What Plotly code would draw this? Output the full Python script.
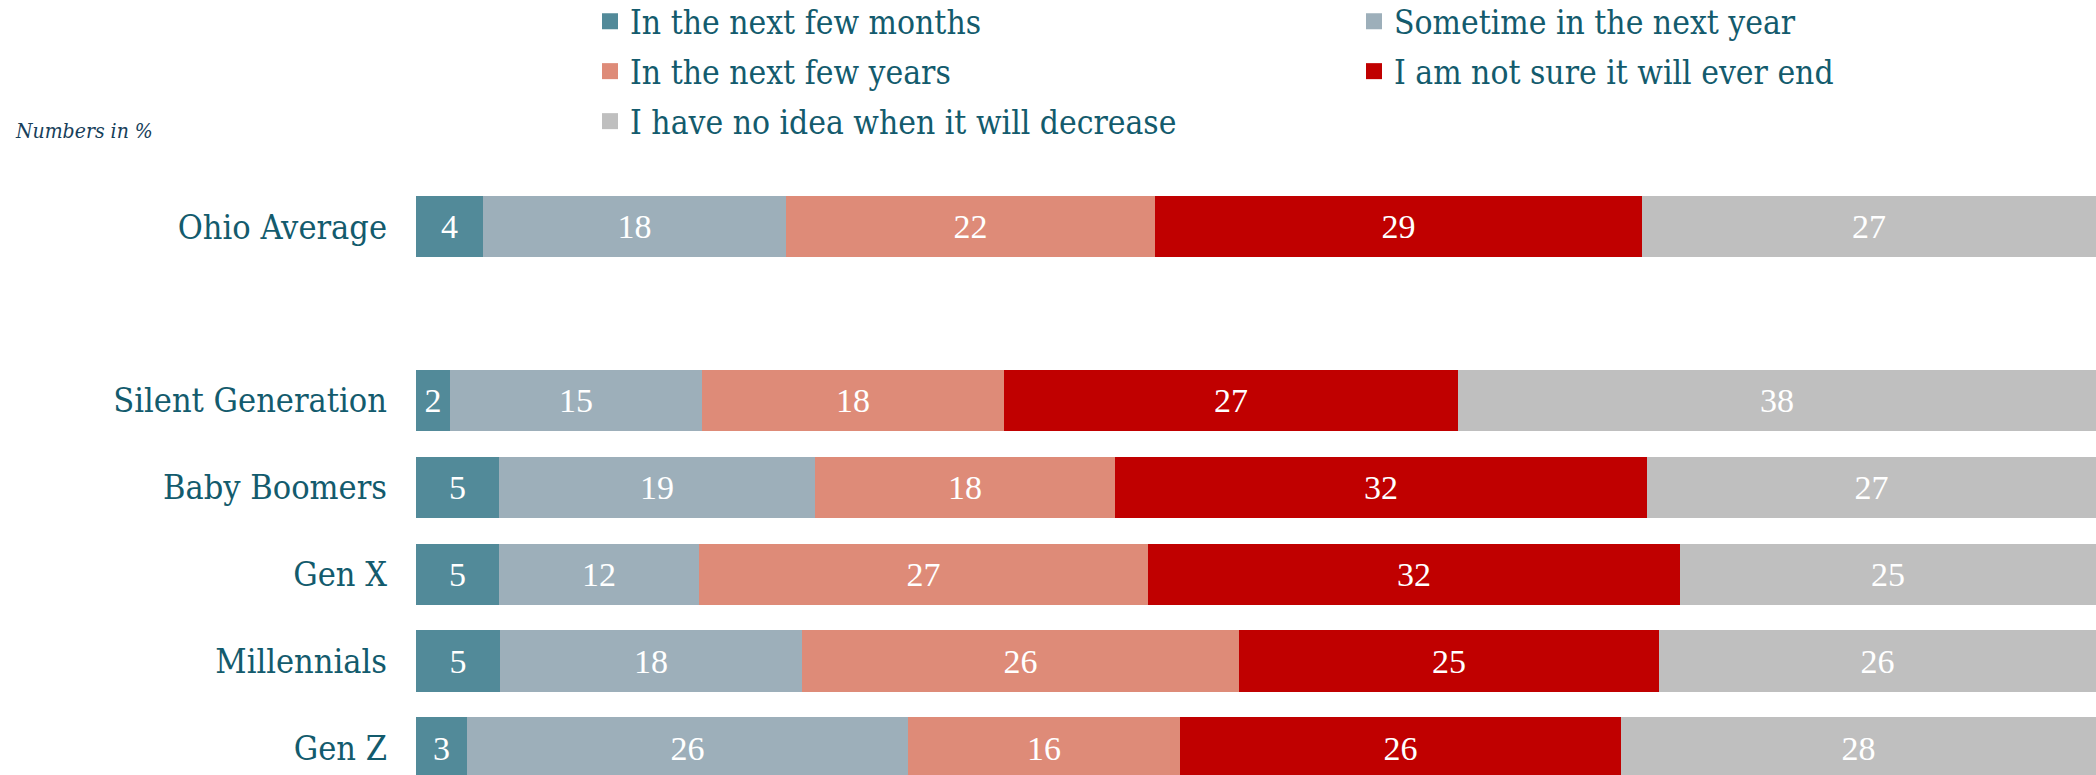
import plotly.graph_objects as go

# ---------------- data ----------------
groups = ["Ohio Average", "Silent Generation", "Baby Boomers", "Gen X", "Millennials", "Gen Z"]
series_names = [
    "In the next few months",
    "Sometime in the next year",
    "In the next few years",
    "I am not sure it will ever end",
    "I have no idea when it will decrease",
]
next_few_months = [4, 2, 5, 5, 5, 3]
next_year = [18, 15, 19, 12, 18, 26]
next_few_years = [22, 18, 18, 27, 26, 16]
not_sure_ever_end = [29, 27, 32, 32, 25, 26]
no_idea = [27, 38, 27, 25, 26, 28]
series_values = [next_few_months, next_year, next_few_years, not_sure_ever_end, no_idea]

# ---------------- style ----------------
colors = ["#528A99", "#9DAFBA", "#DE8B78", "#C00000", "#BFBFBF"]
TEXT = "#135B6D"
FONT = "DejaVu Serif Condensed, DejaVu Serif, serif"
NUM_FONT = "Liberation Serif, Times New Roman, serif"
W, H = 2096, 775

# row positions: a blank row separates the average from the generations
ypos = [0] + [i + 1 for i in range(1, len(groups))]

fig = go.Figure()
for name, vals, col in zip(series_names, series_values, colors):
    fig.add_trace(go.Bar(
        y=ypos, x=vals, orientation="h", name=name,
        marker=dict(color=col, line=dict(width=0)),
        width=0.71,
        text=vals, texttemplate="%{text}", textposition="inside",
        insidetextanchor="middle", constraintext="none", textangle=0,
        textfont=dict(family=NUM_FONT, size=34, color="white"),
        showlegend=False, hoverinfo="name+text",
    ))

# legend entries (square swatches), arranged in 3 rows of 2 columns
legend_ids = ["legend", "legend", "legend2", "legend2", "legend3"]
for name, col, lid in zip(series_names, colors, legend_ids):
    fig.add_trace(go.Scatter(
        x=[None], y=[None], mode="markers", name=name,
        marker=dict(symbol="square", size=18, color=col),
        legend=lid, showlegend=True, hoverinfo="skip",
    ))

row_px = [21.7, 71.5, 121.5]
def leg(ypx):
    return dict(
        orientation="h", traceorder="normal", xref="container", yref="container",
        x=590 / W, y=1 - ypx / H, xanchor="left", yanchor="middle",
        entrywidth=719, entrywidthmode="pixels",
        font=dict(family=FONT, size=33.3, color=TEXT),
        bgcolor="rgba(0,0,0,0)", borderwidth=0, itemclick=False,
    )

fig.update_layout(
    width=W, height=H,
    margin=dict(l=416, r=0, t=140, b=0, pad=0),
    paper_bgcolor="white", plot_bgcolor="white",
    barmode="stack", barnorm="percent", bargap=0,
    legend=leg(row_px[0]), legend2=leg(row_px[1]), legend3=leg(row_px[2]),
    xaxis=dict(range=[0, 100], visible=False, fixedrange=True),
    yaxis=dict(
        range=[6.307, -0.881], tickmode="array", tickvals=ypos, ticktext=groups,
        showgrid=False, zeroline=False, showline=False, ticks="",
        ticklabelstandoff=28, ticklabeloverflow="allow",
        tickfont=dict(family=FONT, size=34, color=TEXT), fixedrange=True,
    ),
    annotations=[dict(
        text="<i>Numbers in %</i>", xref="paper", yref="paper",
        x=(13 - 416) / 1680, y=1 + 19 / 635, xanchor="left", yanchor="middle",
        showarrow=False, font=dict(family=FONT, size=21, color="#17405A"),
    )],
)

fig.write_html(
    "out.html",
    config={"displayModeBar": False},
    post_script="document.body.style.margin='0';document.body.style.overflow='hidden';",
)
